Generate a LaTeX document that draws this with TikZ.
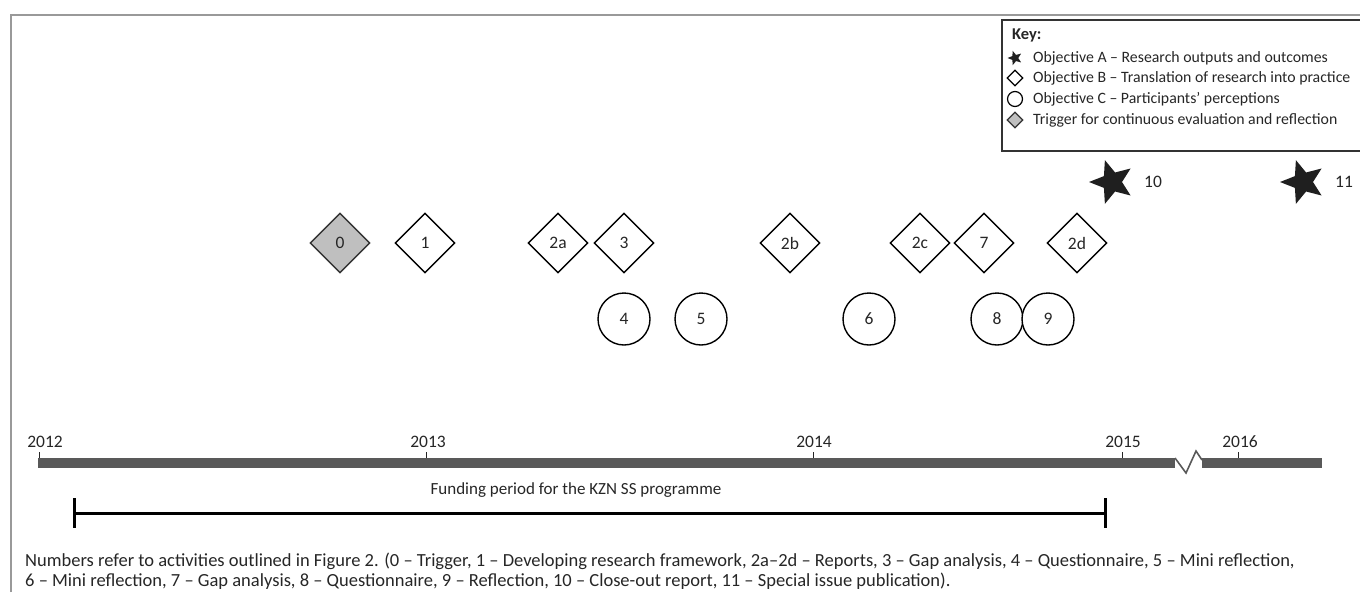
\documentclass[tikz,border=0pt]{standalone}
\usepackage{fontspec}
\setmainfont{Carlito}
\usetikzlibrary{shapes.geometric}
\definecolor{framegray}{HTML}{999999}
\definecolor{bargray}{HTML}{595959}
\definecolor{trigfill}{HTML}{BFBFBF}
\definecolor{txt}{HTML}{262626}
\tikzset{
  dia/.style={diamond, draw=black, line width=1.4pt, fill=white, minimum size=60pt, inner sep=0pt, font=\fontsize{17.5}{17.5}\selectfont, text=txt},
  circ/.style={circle, draw=black, line width=1.4pt, fill=white, minimum size=52pt, inner sep=0pt, font=\fontsize{17.5}{17.5}\selectfont, text=txt},
  bigstar/.style={star, star points=5, star point ratio=2.3, fill=black!88, draw=none, minimum size=46pt, inner sep=0pt, shape border rotate=90},
  lab/.style={font=\fontsize{17.5}{17.5}\selectfont, text=txt, inner sep=0pt, anchor=west},
  year/.style={font=\fontsize{17.5}{17.5}\selectfont, text=txt, inner sep=0pt},
  keytxt/.style={font=\fontsize{15.8}{15.8}\selectfont, text=txt, inner sep=0pt, anchor=west},
  tick/.style={line width=1pt, draw=txt},
  bar/.style={line width=10pt, draw=bargray}
}
\begin{document}
\begin{tikzpicture}[x=1pt,y=-1pt]
\useasboundingbox (0,0) rectangle (1360,592);
% frame
\draw[framegray, line width=2pt] (11,592) -- (11,15) -- (1362,15);
% key box
\draw[black!80, line width=1.2pt] (1362,20) -- (1002,20) -- (1002,151) -- (1362,151);
\node[keytxt, font=\fontsize{16.5}{16.5}\selectfont\bfseries] (keyt) at (1012,35) {Key:};
\node[star, star points=5, star point ratio=2.3, fill=black!88, minimum size=15pt, inner sep=0pt, shape border rotate=90] (ka) at (1015,58) {};
\node[diamond, draw=black, line width=1.2pt, minimum size=16pt, inner sep=0pt] (kb) at (1015,78) {};
\node[circle, draw=black, line width=1.2pt, minimum size=15pt, inner sep=0pt] (kc) at (1015,99) {};
\node[diamond, draw=black!80, fill=trigfill, line width=1.2pt, minimum size=16pt, inner sep=0pt] (kd) at (1015,120) {};
\node[keytxt] (ta) at (1033,58) {Objective A – Research outputs and outcomes};
\node[keytxt] (tb) at (1033,78) {Objective B – Translation of research into practice};
\node[keytxt] (tc) at (1033,99) {Objective C – Participants’ perceptions};
\node[keytxt] (td) at (1033,120) {Trigger for continuous evaluation and reflection};
% stars
\node[bigstar] (s10) at (1112,182) {};
\node[lab] (l10) at (1144,182) {10};
\node[bigstar] (s11) at (1303,182) {};
\node[lab] (l11) at (1335,182) {11};
% diamonds
\node[dia, fill=trigfill, draw=black!80] (d0) at (340,243) {0};
\node[dia] (d1) at (425,243) {1};
\node[dia] (d2a) at (558,243) {2a};
\node[dia] (d3) at (624,243) {3};
\node[dia] (d2b) at (790,243) {2b};
\node[dia] (d2c) at (920,243) {2c};
\node[dia] (d7) at (984,243) {7};
\node[dia] (d2d) at (1077,243) {2d};
% circles
\node[circ] (c4) at (624,319) {4};
\node[circ] (c5) at (701,319) {5};
\node[circ] (c6) at (869,319) {6};
\node[circ] (c8) at (997,319) {8};
\node[circ] (c9) at (1048,319) {9};
% timeline
\coordinate (b0) at (38,463);
\coordinate (b1) at (1175,463);
\coordinate (b2) at (1202,463);
\coordinate (b3) at (1322,463);
\draw[bar] (b0) -- (b1);
\draw[bar] (b2) -- (b3);
\draw[bargray, line width=1.6pt] (1175,458) -- (1186,473) -- (1196,451) -- (1202,460);
% ticks and years
\foreach \x in {39, 426, 813, 1122, 1238}{
  \draw[tick] (\x,452) -- (\x,458);
}
\node[year] (y12) at (45,442) {2012};
\node[year] (y13) at (428,442) {2013};
\node[year] (y14) at (814,442) {2014};
\node[year] (y15) at (1123,442) {2015};
\node[year] (y16) at (1240,442) {2016};
% funding bracket
\coordinate (f0) at (74,513);
\coordinate (f1) at (1105,513);
\draw[black, line width=3pt] (f0) -- (f1);
\draw[black, line width=3pt] (74,498) -- (74,528);
\draw[black, line width=3pt] (1105,498) -- (1105,528);
\node[font=\fontsize{17}{17}\selectfont, text=txt, inner sep=0pt] (fund) at (576,490) {Funding period for the KZN SS programme};
% caption
\node[font=\fontsize{18.5}{18.5}\selectfont, text=txt, inner sep=0pt, anchor=west] (cap1) at (25,561) {Numbers refer to activities outlined in Figure 2. (0 – Trigger, 1 – Developing research framework, 2a–2d – Reports, 3 – Gap analysis, 4 – Questionnaire, 5 – Mini reflection,};
\node[font=\fontsize{18.5}{18.5}\selectfont, text=txt, inner sep=0pt, anchor=west] (cap2) at (25,581) {6 – Mini reflection, 7 – Gap analysis, 8 – Questionnaire, 9 – Reflection, 10 – Close-out report, 11 – Special issue publication).};
\end{tikzpicture}
\end{document}
